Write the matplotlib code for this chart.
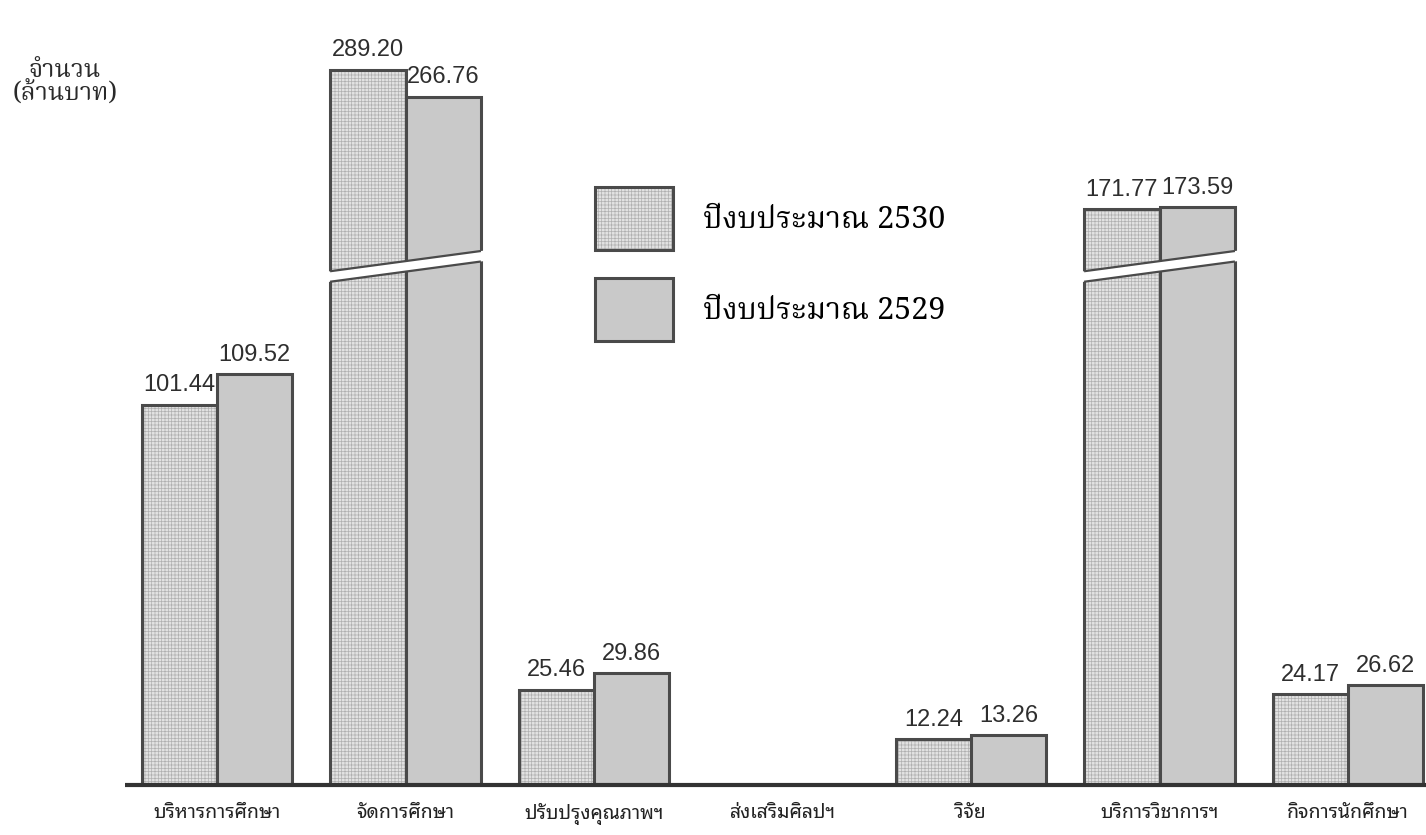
import numpy as np
import matplotlib
matplotlib.use("Agg")
import matplotlib.pyplot as plt
from matplotlib.patches import Polygon

# budget by program, million baht (ส่งเสริมศิลปฯ has no bars)
categories = ["บริหารการศึกษา", "จัดการศึกษา", "ปรับปรุงคุณภาพฯ", "ส่งเสริมศิลปฯ",
              "วิจัย", "บริการวิชาการฯ", "กิจการนักศึกษา"]
budget_2530 = [101.44, 289.20, 25.46, np.nan, 12.24, 171.77, 24.17]
budget_2529 = [109.52, 266.76, 29.86, np.nan, 13.26, 173.59, 26.62]
series_labels = ["ปีงบประมาณ 2530", "ปีงบประมาณ 2529"]

THAI = ["Noto Sans Thai Looped", "DejaVu Sans"]
THAI_SERIF = ["Noto Serif Thai", "Liberation Serif"]
EDGE = "#4a4a4a"
plt.rcParams["hatch.linewidth"] = 0.5

# broken value axis: linear up to BRK, compressed above it
BRK, K = 145.0, 0.317

def fwd(v):
  v = np.asarray(v, dtype=float)
  return np.where(v < BRK, v, BRK + (v - BRK) * K)

def inv(u):
  u = np.asarray(u, dtype=float)
  return np.where(u < BRK, u, BRK + (u - BRK) / K)

fig = plt.figure(figsize=(14.26, 8.35), dpi=100)
ax = fig.add_axes([0, 50 / 835, 1, 785 / 835])
ax.set_yscale("function", functions=(fwd, inv))
ax.set_xlim(-217 / 188.5, (1426 - 217) / 188.5)
ax.set_ylim(0, float(inv(785 / 3.75)))

x = np.arange(len(categories))
w = 0.4
# hatch takes the edge colour, so the grid texture and the outline are two layers
b1h = ax.bar(x - w / 2, budget_2530, w, facecolor="#e2e2e2", edgecolor="#b0b0b0",
             linewidth=0, hatch="+++++", zorder=2)
b1 = ax.bar(x - w / 2, budget_2530, w, facecolor="none", edgecolor=EDGE,
            linewidth=2.2, zorder=2.5)
b2 = ax.bar(x + w / 2, budget_2529, w, facecolor="#c9c9c9", edgecolor=EDGE,
            linewidth=2.2, zorder=2.5)

for bars, vals in ((b1, budget_2530), (b2, budget_2529)):
  labs = ["" if np.isnan(v) else f"{v:.2f}" for v in vals]
  ax.bar_label(bars, labels=labs, padding=6, fontsize=17,
               family="Liberation Sans", color="#2e2e2e")

# white slanted cut through the tall groups
y0, band, rise = 134.0, 2.8, 5.8
for xi, a, b in zip(x, budget_2530, budget_2529):
  if np.isnan(a) or max(a, b) < BRK:
    continue
  xl, xr = xi - w - 0.03, xi + w + 0.03
  sl = rise / (xr - xl)
  ax.add_patch(Polygon([(xl, y0), (xr, y0 + rise), (xr, y0 + rise + band),
                        (xl, y0 + band)],
                       closed=True, facecolor="white", edgecolor="none", zorder=3))
  xs = np.array([xi - w, xi + w])
  for off in (0, band):
    ax.plot(xs, y0 + off + (xs - xl) * sl, color=EDGE, lw=1.6, zorder=4,
            solid_capstyle="butt")

ax.plot([-0.49, 6.8], [0, 0], color="#333333", lw=3, zorder=5,
        solid_capstyle="butt", clip_on=False)

ax.set_xticks(x, categories, family=THAI, fontsize=14, color="#222222")
ax.tick_params(axis="x", length=0, pad=13)
ax.set_yticks([])
for s in ax.spines.values():
  s.set_visible(False)

fig.text(65 / 1426, 1 - 58 / 835, "จำนวน\n(ล้านบาท)", ha="center", va="top",
         family=THAI_SERIF, fontsize=18, color="#2a2a2a", linespacing=0.9)

ax.legend(handles=[(b1h, b1), b2], labels=series_labels, loc="upper left",
          bbox_to_anchor=(595 / 1426, 1 - 187 / 835),
          bbox_transform=fig.transFigure, frameon=False, borderpad=0,
          borderaxespad=0, handlelength=2.55, handleheight=2.8,
          labelspacing=0.92, handletextpad=1.0,
          prop={"family": THAI_SERIF, "size": 22})

fig.savefig("out.png", dpi=100)
